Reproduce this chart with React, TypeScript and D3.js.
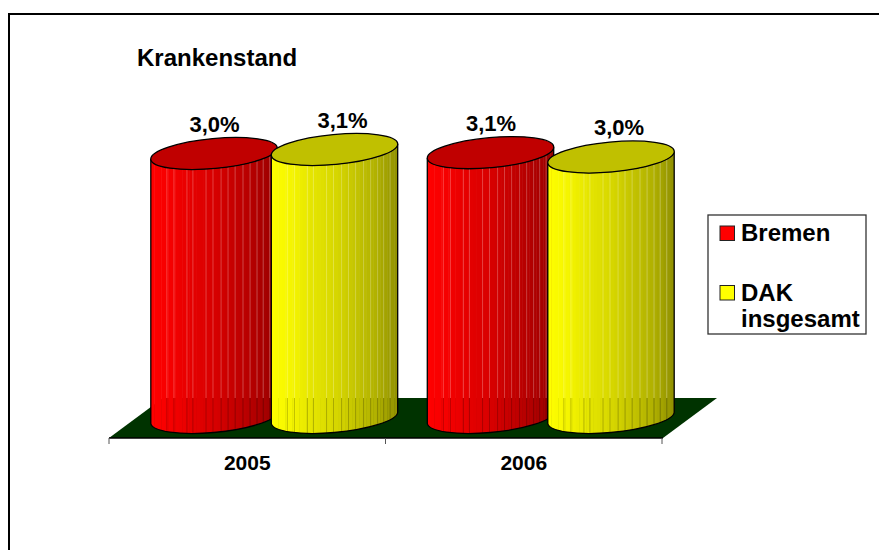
import React from "react";
import * as d3 from "d3";

const title = "Krankenstand";
const years = ["2005", "2006"];
const seriesNames = ["Bremen", "DAK insgesamt"];
const bremenValues = [3.04, 3.05];
const dakValues = [3.086, 3.0];
const valueLabels = [["3,0%", "3,1%"], ["3,1%", "3,0%"]];
const redStops = ["#ff0000", "#f40000", "#e40000", "#d80000", "#c40000", "#b00000", "#980000"];
const yellowStops = ["#ffff00", "#f4f400", "#e4e400", "#d8d800", "#c4c400", "#b0b000", "#909000"];
const stripeLines = [0.127, 0.183, 0.286, 0.333, 0.437, 0.492, 0.556, 0.611, 0.667, 0.73, 0.786, 0.841, 0.889, 0.94];

const FONT = "'Liberation Sans', Arial, sans-serif";
const W = 879, H = 550;
const xBand = d3.scaleBand<string>().domain(years).range([109, 662]);
const xSeries = d3.scalePoint<string>().domain(seriesNames).range([105, 225.5]);
const y = d3.scaleLinear().domain([0, 3]).range([418, 157]);
const floorBack = 398, floorFront = 438, floorDx = 54;
const rx = 63.5, ry = 15, rot = -5.3, halfW = 63.2, tilt = 5.5;
const colorStep = d3.range(0, 1, 1 / 36);

function Cylinder({ id, cx, value, stops, top }: { id: string; cx: number; value: number; stops: string[]; top: string }) {
  const cyTop = y(value), cyBot = y(0);
  const lx = cx - halfW, rxp = cx + halfW;
  const body = `M${lx},${cyTop + tilt} L${lx},${cyBot + tilt} A${rx},${ry} ${rot} 0 0 ${rxp},${cyBot - tilt} L${rxp},${cyTop - tilt} A${rx},${ry} ${rot} 0 1 ${lx},${cyTop + tilt} Z`;
  const color = d3.scaleLinear<string>().domain(d3.range(stops.length).map(i => i / (stops.length - 1))).range(stops);
  const wid = halfW * 2;
  return (
    <g>
      <clipPath id={id}><path d={body} /></clipPath>
      <g clipPath={`url(#${id})`}>
        {colorStep.map(f => (
          <rect key={f} x={lx + f * wid} y={cyTop - 30} width={wid / 36 + 0.5} height={cyBot - cyTop + 60} fill={color(f + 1 / 72)} />
        ))}
        {stripeLines.map(f => (
          <g key={f}>
            <line x1={lx + f * wid} x2={lx + f * wid} y1={cyTop - 30} y2={floorBack} stroke="#ffffff" strokeOpacity={0.25} />
            <line x1={lx + f * wid} x2={lx + f * wid} y1={floorBack} y2={cyBot + 30} stroke="#000000" strokeOpacity={0.22} />
          </g>
        ))}
      </g>
      <path d={body} fill="none" stroke="#000" strokeWidth={1.3} />
      <ellipse cx={0} cy={0} rx={rx} ry={ry} transform={`translate(${cx},${cyTop}) rotate(${rot})`} fill={top} stroke="#000" strokeWidth={1.3} />
    </g>
  );
}

export default function App() {
  const step = xBand.step();
  const x0 = xBand.range()[0], x1 = xBand.range()[1];
  const items = years.flatMap((yr, i) => [
    { id: `c${i}a`, cx: xBand(yr)! + xSeries(seriesNames[0])!, value: bremenValues[i], stops: redStops, top: "#c00000", label: valueLabels[i][0], dx: 0.5 },
    { id: `c${i}b`, cx: xBand(yr)! + xSeries(seriesNames[1])!, value: dakValues[i], stops: yellowStops, top: "#c0c000", label: valueLabels[i][1], dx: 8 },
  ]);
  return (
    <svg width={W} height={H} viewBox={`0 0 ${W} ${H}`} style={{ position: "fixed", left: 0, top: 0, background: "#fff" }} fontFamily={FONT} fontWeight="bold" fill="#000">
      <path d={`M${W},14 H9 V${H}`} fill="none" stroke="#000" strokeWidth={2} />
      <text x={137} y={66} fontSize={24}>{title}</text>
      <polygon points={`${x0},${floorFront} ${x1 + 1},${floorFront} ${x1 + 1 + floorDx},${floorBack} ${x0 + floorDx},${floorBack}`} fill="#003300" />
      <line x1={x0} x2={x1 + 1} y1={floorFront} y2={floorFront} stroke="#000" strokeWidth={1.5} />
      {d3.range(years.length + 1).map(i => (
        <line key={i} x1={x0 + i * step} x2={x0 + i * step} y1={floorFront} y2={444} stroke="#555" strokeWidth={1} />
      ))}
      {years.map(yr => (
        <text key={yr} x={xBand(yr)! + step / 2} y={470} textAnchor="middle" fontSize={21}>{yr}</text>
      ))}
      {items.map(d => <Cylinder key={d.id} id={d.id} cx={d.cx} value={d.value} stops={d.stops} top={d.top} />)}
      {items.map(d => (
        <text key={d.id} x={d.cx + d.dx} y={y(d.value) - 22} textAnchor="middle" fontSize={22}>{d.label}</text>
      ))}
      <rect x={708} y={215} width={158} height={119} fill="#fff" stroke="#333" strokeWidth={1.3} />
      <rect x={720} y={226} width={14.5} height={14.5} fill="#ff0000" stroke="#222" />
      <rect x={720} y={285.5} width={14.5} height={14.5} fill="#ffff00" stroke="#222" />
      <text x={741} y={241} fontSize={24}>Bremen</text>
      <text x={741} y={301} fontSize={24}>DAK</text>
      <text x={741} y={327} fontSize={24}>insgesamt</text>
    </svg>
  );
}
